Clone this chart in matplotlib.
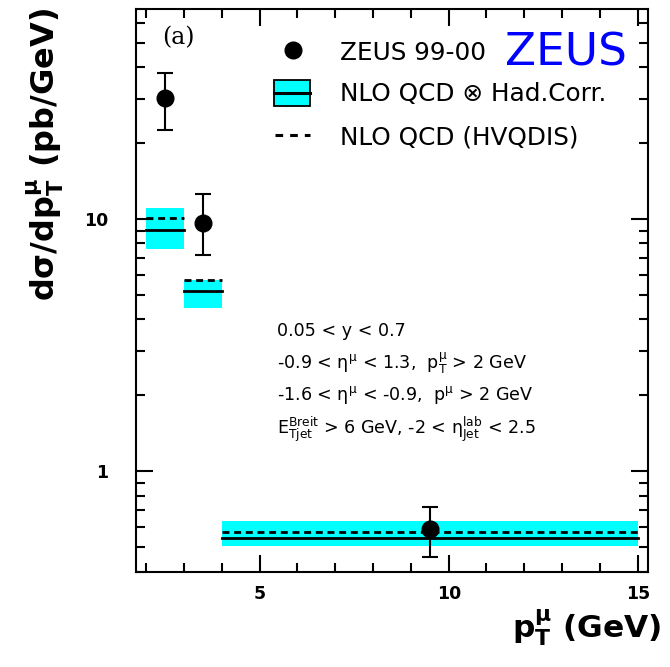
import matplotlib
matplotlib.use("Agg")
import matplotlib.pyplot as plt
from matplotlib.patches import Rectangle
from matplotlib.lines import Line2D
from matplotlib.ticker import FixedLocator, NullFormatter
import numpy as np

# measured cross sections (ZEUS 99-00)
pt_centres = [2.5, 3.5, 9.5]
xsec = [30.1, 9.64, 0.59]
err_up = [37.9, 12.6, 0.725]
err_dn = [22.5, 7.17, 0.456]

# NLO QCD x hadronisation corrections, per pT bin
bin_lo = [2.0, 3.0, 4.0]
bin_hi = [3.0, 4.0, 15.0]
nlo_had = [9.01, 5.18, 0.545]
band_lo = [7.59, 4.42, 0.507]
band_hi = [11.06, 5.73, 0.636]
# NLO QCD (HVQDIS) partonic
nlo_parton = [10.09, 5.73, 0.573]

cuts = [
    "0.05 < y < 0.7",
    r"-0.9 < η$^{\mathrm{μ}}$ < 1.3,  p$_{\mathrm{T}}^{\mathrm{μ}}$ > 2 GeV",
    r"-1.6 < η$^{\mathrm{μ}}$ < -0.9,  p$^{\mathrm{μ}}$ > 2 GeV",
    r"E$_{\mathrm{Tjet}}^{\mathrm{Breit}}$ > 6 GeV, -2 < η$_{\mathrm{Jet}}^{\mathrm{lab}}$ < 2.5",
]

plt.rcParams['font.family'] = ['DejaVu Sans']
plt.rcParams['mathtext.fontset'] = 'dejavusans'

fig = plt.figure(figsize=(6.7, 6.67), dpi=100)
ax = fig.add_axes([0.2025, 0.1429, 0.9676 - 0.2025, 0.9865 - 0.1429])
ax.set_yscale('log')
ax.set_xlim(1.72, 15.28)
ax.set_ylim(0.4, 68)

dash = (0, (2.5, 1.7))
for lo, hi, c, blo, bhi, p in zip(bin_lo, bin_hi, nlo_had, band_lo, band_hi, nlo_parton):
    ax.add_patch(Rectangle((lo, blo), hi - lo, bhi - blo, facecolor='#00ffff',
                           edgecolor='none', zorder=1))
    ax.plot([lo, hi], [c, c], color='black', lw=2, zorder=2)
    ax.plot([lo, hi], [p, p], color='black', lw=2, ls=dash, zorder=2)

yerr = [np.array(xsec) - np.array(err_dn), np.array(err_up) - np.array(xsec)]
ax.errorbar(pt_centres, xsec, yerr=yerr, fmt='o', color='black', ms=12,
            elinewidth=1.5, capsize=5.5, capthick=1.5, zorder=4)

# ticks inward on all sides
ax.xaxis.set_major_locator(FixedLocator([5, 10, 15]))
ax.xaxis.set_minor_locator(FixedLocator([2, 3, 4, 6, 7, 8, 9, 11, 12, 13, 14]))
ax.yaxis.set_major_locator(FixedLocator([1, 10]))
ax.yaxis.set_minor_locator(FixedLocator([0.4, 0.5, 0.6, 0.7, 0.8, 0.9,
                                         2, 3, 4, 5, 6, 7, 8, 9,
                                         20, 30, 40, 50, 60]))
ax.yaxis.set_minor_formatter(NullFormatter())
ax.set_yticklabels(['1', '10'])
ax.tick_params(which='both', direction='in', top=True, right=True, width=1.5)
ax.tick_params(which='major', length=12)
ax.tick_params(which='minor', length=6.5)
ax.tick_params(axis='x', which='major', pad=9.5, labelsize=12.5)
ax.tick_params(axis='y', which='major', pad=19.5, labelsize=12.5)
for lab in ax.get_xticklabels() + ax.get_yticklabels():
    lab.set_fontweight('bold')
for sp in ax.spines.values():
    sp.set_linewidth(1.5)

# axis titles
fig.text(45 / 670, 1 - 8 / 667, r"dσ/dp$_{\mathbf{T}}^{\mathbf{μ}}$ (pb/GeV)",
         rotation=90, ha='center', va='top', fontsize=23, fontweight='bold')
fig.text(661 / 670, 1 - 638 / 667, r"p$_{\mathbf{T}}^{\mathbf{μ}}$ (GeV)",
         ha='right', va='baseline', fontsize=22.5, fontweight='bold')

# position helper: pixel coordinates of the frame -> axes fraction
tr = ax.transAxes
def px(x, y):
    return ((x - 135.7) / (648.3 - 135.7), (571.7 - y) / (571.7 - 9))

# panel label and experiment tag
ax.text(*px(162, 38), "(a)", transform=tr, fontsize=17, family='DejaVu Serif', va='center')
fig.text(505 / 670, 1 - 65 / 667, "ZEUS", color='#0000ff', fontsize=32.7, va='baseline')

# hand-made legend
ax.add_line(Line2D([px(293.3, 50)[0]], [px(293.3, 50)[1]], marker='o', ms=12,
                   color='black', transform=tr))
x0, y0 = px(274, 106)
x1, y1 = px(310, 80)
ax.add_patch(Rectangle((x0, y0), x1 - x0, y1 - y0, facecolor='#00ffff',
                       edgecolor='black', lw=1.3, transform=tr, zorder=3))
ax.add_line(Line2D([x0, x1], [px(0, 93)[1]] * 2, color='black', lw=2.2,
                   transform=tr, zorder=4))
ax.add_line(Line2D([px(275, 0)[0], px(310, 0)[0]], [px(0, 135)[1]] * 2,
                   color='black', lw=2.2, ls=(0, (2.5, 2.3)), transform=tr))
legend_text = ["ZEUS 99-00", "NLO QCD \u2297 Had.Corr.", "NLO QCD (HVQDIS)"]
for txt, y in zip(legend_text, [53, 94, 137]):
    ax.text(*px(340, y), txt, transform=tr, fontsize=17.8, va='center')

# selection cuts
for txt, y in zip(cuts, [331, 363, 395, 429]):
    ax.text(*px(276.7, y), txt, transform=tr, fontsize=12.6, va='center')

fig.savefig("out.png", dpi=100)
